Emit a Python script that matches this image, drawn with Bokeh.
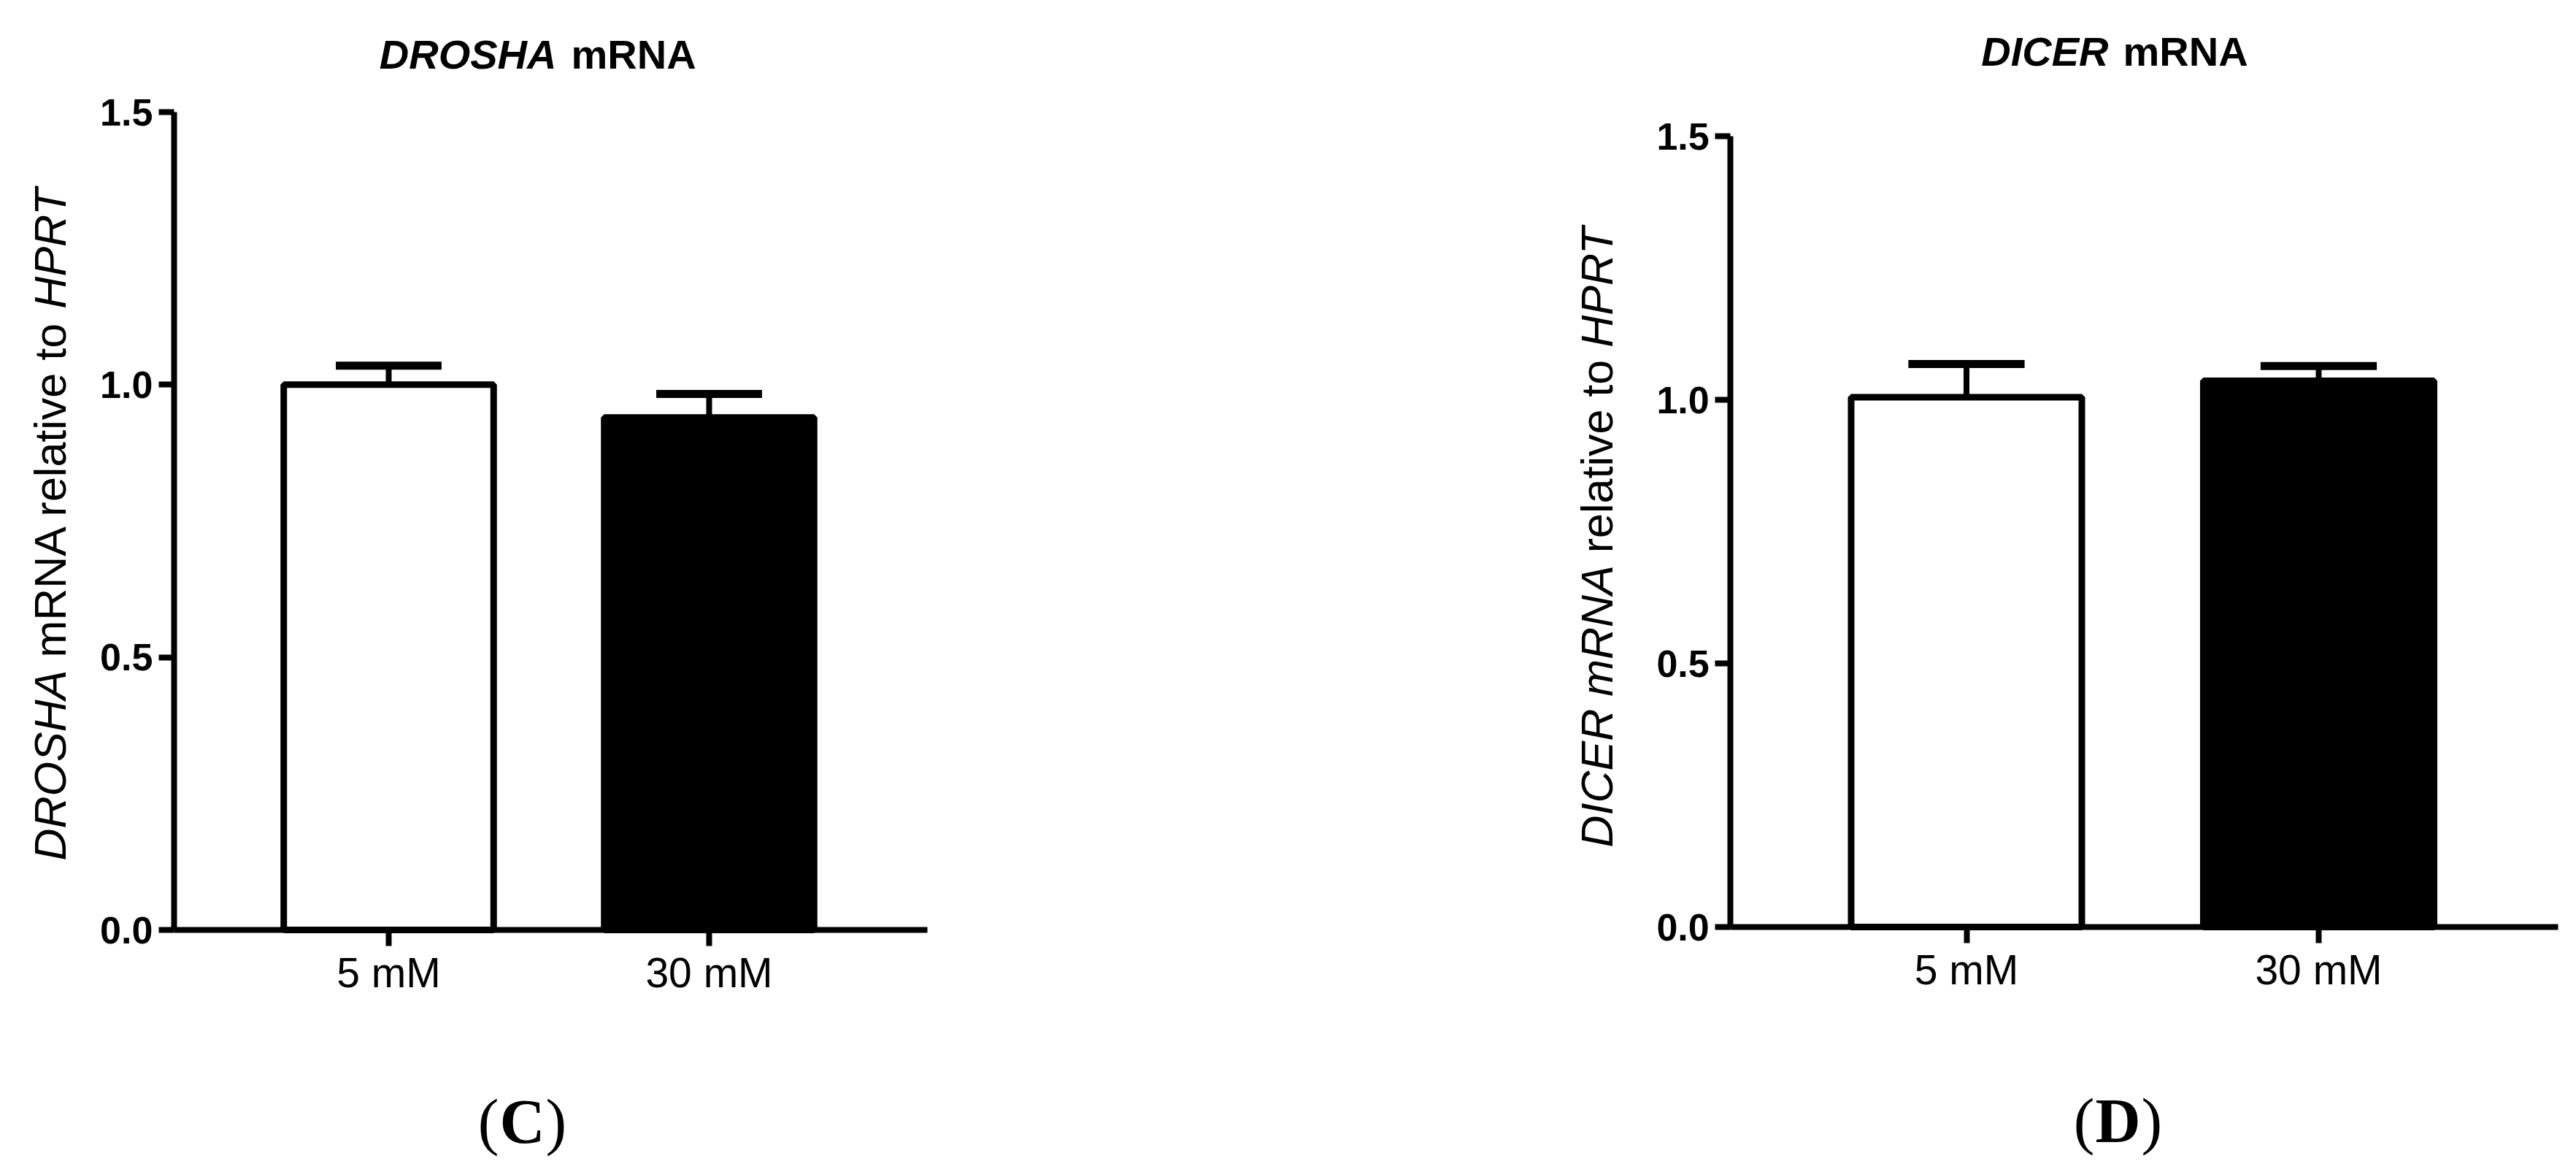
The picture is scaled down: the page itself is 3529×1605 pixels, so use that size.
import math
from bokeh.plotting import figure
from bokeh.models import (Range1d, Whisker, TeeHead, ColumnDataSource,
                          Label, FixedTicker, NumeralTickFormatter)
from bokeh.layouts import row
from bokeh.embed import file_html
from bokeh.resources import INLINE

# ---------------- data ----------------
groups = ["5 mM", "30 mM"]
drosha_mean = [1.00, 0.94]
drosha_sem = [0.035, 0.043]
dicer_mean = [1.005, 1.036]
dicer_sem = [0.063, 0.028]
bar_fill = ["white", "black"]
yticks = [0.0, 0.5, 1.0, 1.5]

SANS = "'Liberation Sans', Arial, sans-serif"
SERIF = "'Liberation Serif', 'Times New Roman', serif"

# Arial advance widths (per 1000 em) for placing mixed-style label pieces
AW = {'D': 722, 'R': 722, 'O': 778, 'S': 667, 'H': 722, 'A': 667, ' ': 278, 'm': 833,
      'N': 722, 'r': 333, 'e': 556, 'l': 222, 'a': 556, 't': 278, 'i': 222, 'v': 500,
      'o': 556, 'P': 667, 'T': 611, 'C': 722, 'I': 278, 'E': 667}


def tw(s, fs):
    return sum(AW[c] for c in s) / 1000.0 * fs


def make_panel(geom, means, sems, title_it, title_rest, ylabel_parts, letter, letter_geom):
    W, H, offx = geom["w"], geom["h"], geom["offx"]
    c1, c2 = geom["centers"]          # page px of first / second bar centre
    y0s, y15s = geom["yaxis"]         # page px of y=0 and y=1.5
    ppu = c2 - c1
    x_start = 1 - (c1 - offx) / ppu
    x_end = x_start + W / ppu
    ppuy = (y0s - y15s) / 1.5
    y_start = -(H - y0s) / ppuy
    y_end = 1.5 + y15s / ppuy

    def fx(sx):
        return x_start + (sx - offx) / ppu

    def fy(sy):
        return (y0s - sy) / ppuy

    p = figure(width=W, height=H, x_range=Range1d(x_start, x_end),
               y_range=Range1d(y_start, y_end),
               output_backend="svg", toolbar_location=None, title=None)
    p.min_border = 0
    p.min_border_left = 0
    p.min_border_right = 0
    p.min_border_top = 0
    p.min_border_bottom = 0
    p.outline_line_color = None
    p.background_fill_color = "white"
    p.border_fill_color = "white"
    p.xgrid.visible = False
    p.ygrid.visible = False

    xs = [i + 1 for i in range(len(groups))]
    src = ColumnDataSource(dict(x=xs, m=means,
                                up=[m + s for m, s in zip(means, sems)],
                                fill=bar_fill))
    p.vbar(x="x", top="m", bottom=0, width=0.655, source=src,
           fill_color="fill", line_color="black", line_width=9)
    p.add_layout(Whisker(base="x", lower="m", upper="up", source=src,
                         line_color="black", line_width=8, lower_head=None,
                         upper_head=TeeHead(size=0.33 * ppu, line_width=11,
                                            line_color="black")))

    # axes drawn at fixed positions inside the (full-size) frame
    x_lo, x_hi = 0.33, 2.68
    for ax in (p.xaxis[0], p.yaxis[0]):
        ax.axis_line_width = 8
        ax.axis_line_color = "black"
        ax.major_tick_line_width = 8
        ax.major_tick_line_color = "black"
        ax.major_tick_in = 0
        ax.minor_tick_line_color = None
        ax.major_label_text_color = "black"
    p.yaxis.fixed_location = x_lo
    p.yaxis.bounds = (0, 1.5)
    p.xaxis.fixed_location = 0
    p.xaxis.bounds = (x_lo, x_hi)
    p.yaxis.ticker = FixedTicker(ticks=yticks)
    p.yaxis.formatter = NumeralTickFormatter(format="0.0")
    p.yaxis.major_tick_out = 21
    p.yaxis.major_label_standoff = 8
    p.yaxis.major_label_text_font = SANS
    p.yaxis.major_label_text_font_style = "bold"
    p.yaxis.major_label_text_font_size = "52px"
    p.xaxis.ticker = FixedTicker(ticks=xs)
    p.xaxis.major_label_overrides = {x: g for x, g in zip(xs, groups)}
    p.xaxis.major_tick_out = 22
    p.xaxis.major_label_standoff = 4
    p.xaxis.major_label_text_font = SANS
    p.xaxis.major_label_text_font_style = "normal"
    p.xaxis.major_label_text_font_size = "57px"

    # title (mixed style); y = vertical centre of the capitals
    tx, tc = geom["title"]
    p.add_layout(Label(x=fx(tx - 10), y=fy(tc), text=title_it, text_align="right",
                       text_baseline="middle", text_font=SANS,
                       text_font_style="bold italic", text_font_size="56px",
                       text_color="black"))
    p.add_layout(Label(x=fx(tx + 10), y=fy(tc), text=title_rest, text_align="left",
                       text_baseline="middle", text_font=SANS,
                       text_font_style="bold", text_font_size="56px",
                       text_color="black"))

    # rotated y label (mixed style); x = centre of the capitals
    lx, ly_bottom = geom["ylabel"]
    fs = 61
    offset = 0.0
    for txt, style in ylabel_parts:
        p.add_layout(Label(x=fx(lx), y=fy(ly_bottom - offset), text=txt,
                           angle=math.pi / 2, text_align="left",
                           text_baseline="middle", text_font=SANS,
                           text_font_style=style, text_font_size=f"{fs}px",
                           text_color="black"))
        offset += tw(txt + " ", fs)

    # panel letter
    cx, cc, half = letter_geom
    p.add_layout(Label(x=fx(cx), y=fy(cc), text=letter, text_align="center",
                       text_baseline="middle", text_font=SERIF,
                       text_font_style="bold", text_font_size="86px", text_color="black"))
    p.add_layout(Label(x=fx(cx - half - 1), y=fy(cc), text="(", text_align="right",
                       text_baseline="middle", text_font=SERIF,
                       text_font_style="normal", text_font_size="86px", text_color="black"))
    p.add_layout(Label(x=fx(cx + half + 1), y=fy(cc), text=")", text_align="left",
                       text_baseline="middle", text_font=SERIF,
                       text_font_style="normal", text_font_size="86px", text_color="black"))
    return p


left_geom = dict(w=1760, h=1600, offx=0, centers=(532, 971), yaxis=(1273, 153),
                 title=(772, 74), ylabel=(68.5, 1178))
right_geom = dict(w=1760, h=1600, offx=1760, centers=(2693.5, 3176), yaxis=(1269, 186),
                  title=(2898, 70), ylabel=(2187, 1160))

p1 = make_panel(left_geom, drosha_mean, drosha_sem, "DROSHA", "mRNA",
                [("DROSHA", "italic"), ("mRNA relative to", "normal"), ("HPRT", "italic")],
                "C", (715, 1535, 31))
p2 = make_panel(right_geom, dicer_mean, dicer_sem, "DICER", "mRNA",
                [("DICER mRNA", "italic"), ("relative to", "normal"), ("HPRT", "italic")],
                "D", (2901, 1534, 31))

layout = row(p1, p2, spacing=0)
open("out.html", "w").write(file_html(layout, INLINE))
